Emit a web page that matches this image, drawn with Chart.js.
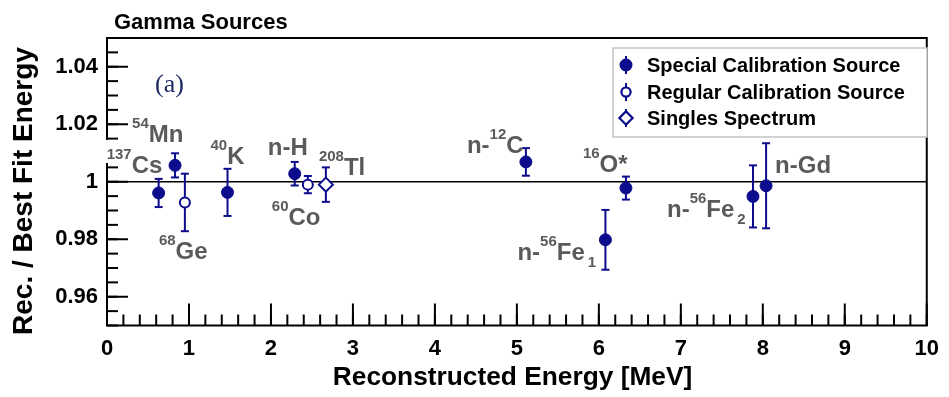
<!DOCTYPE html>
<html><head><meta charset="utf-8">
<script src="https://cdn.jsdelivr.net/npm/chart.js@4.4.1/dist/chart.umd.min.js"></script>
<style>html,body{margin:0;padding:0;background:#fff;overflow:hidden}</style>
</head><body>
<canvas id="c" width="949" height="397"></canvas>
<script>
// ---- data ----
const specialNames  = ['137Cs','54Mn','40K','n-H','n-12C','n-56Fe1','16O*','n-56Fe2','n-Gd'];
const specialEnergy = [0.63, 0.83, 1.47, 2.29, 5.11, 6.08, 6.33, 7.88, 8.04];
const specialRatio  = [0.9961, 1.0057, 0.9963, 1.0028, 1.0069, 0.9798, 0.9978, 0.9949, 0.9986];
const specialError  = [0.0049, 0.0042, 0.0082, 0.0041, 0.0048, 0.0104, 0.0040, 0.0108, 0.0148];

const regularNames  = ['68Ge','60Co'];
const regularEnergy = [0.95, 2.45];
const regularRatio  = [0.9928, 0.9990];
const regularError  = [0.0100, 0.0030];

const singlesNames  = ['208Tl'];
const singlesEnergy = [2.67];
const singlesRatio  = [0.9990];
const singlesError  = [0.0060];

const xTickValues = [0,1,2,3,4,5,6,7,8,9,10];
const xTickLabels = ['0','1','2','3','4','5','6','7','8','9','10'];
const yTickValues = [0.96, 0.98, 1, 1.02, 1.04];
const yTickLabels = ['0.96','0.98','1','1.02','1.04'];

// ---- label text pieces (text only) ----
const labelParts = {
  '137Cs':  [['137','sup'],['Cs','']],
  '54Mn':   [['54','sup'],['Mn','']],
  '68Ge':   [['68','sup'],['Ge','']],
  '40K':    [['40','sup'],['K','']],
  'n-H':    [['n-H','']],
  '60Co':   [['60','sup'],['Co','']],
  '208Tl':  [['208','sup'],['Tl','']],
  'n-12C':  [['n-',''],['12','sup'],['C','']],
  '16O*':   [['16','sup'],['O*','']],
  'n-56Fe1':[['n-',''],['56','sup'],['Fe',''],['1','sub']],
  'n-56Fe2':[['n-',''],['56','sup'],['Fe',''],['2','sub']],
  'n-Gd':   [['n-Gd','']]
};
// ---- label placement (pixel offsets from the marker) ----
const labelOffsets = {
  '137Cs':[-52,-20], '54Mn':[-43,-23], '68Ge':[-26,57], '40K':[-17,-28],
  'n-H':[-27,-19], '60Co':[-36,40], '208Tl':[-7,-10], 'n-12C':[-59,-9],
  '16O*':[-43,-16], 'n-56Fe1':[-88,20], 'n-56Fe2':[-86,21], 'n-Gd':[9,-13]
};

const FAM = '"Liberation Sans", Arial, Helvetica, sans-serif';
const NAVY = '#0c0c8c';
const GRAY = '#5a5a5a';

function pts(xs, ys){ return xs.map((v,i)=>({x:v, y:ys[i]})); }

function line(ctx,x1,y1,x2,y2){ ctx.beginPath(); ctx.moveTo(x1,y1); ctx.lineTo(x2,y2); ctx.stroke(); }

function drawParts(ctx, parts, x, y, knock){
  let cx = x;
  ctx.textBaseline = 'alphabetic';
  ctx.textAlign = 'left';
  parts.forEach(([t,kind])=>{
    if(kind==='sup'){
      ctx.font = 'bold 15px ' + FAM;
      const w = ctx.measureText(t).width;
      if(knock){ ctx.save(); ctx.fillStyle='#fff'; ctx.fillRect(cx-6, y-33, w+6, 23); ctx.restore(); }
      ctx.fillText(t, cx, y-14); cx += w;
    } else if(kind==='sub'){
      cx += 3;
      ctx.font = 'bold 15px ' + FAM;
      ctx.fillText(t, cx, y+7); cx += ctx.measureText(t).width;
    } else {
      ctx.font = 'bold 24px ' + FAM;
      ctx.fillText(t, cx, y); cx += ctx.measureText(t).width;
    }
  });
}

function fitText(ctx, text, weight, target){
  ctx.font = weight + ' 20px ' + FAM;
  const w = ctx.measureText(text).width;
  return 20 * target / w;
}

const deco = {
  id:'deco',
  beforeDatasetsDraw(chart){
    const {ctx, chartArea:a, scales:{x,y}} = chart;
    ctx.save();
    // reference line at 1
    ctx.strokeStyle = '#000'; ctx.lineWidth = 1.6;
    const y1 = y.getPixelForValue(1);
    line(ctx, a.left, y1, a.right, y1);
    // error bars
    ctx.strokeStyle = NAVY; ctx.lineWidth = 2;
    chart.data.datasets.forEach(ds=>{
      ds.data.forEach((p,j)=>{
        const e = ds.errors[j];
        const px = x.getPixelForValue(p.x);
        const t = y.getPixelForValue(p.y+e), b = y.getPixelForValue(p.y-e);
        line(ctx, px, t, px, b);
        line(ctx, px-4, t, px+4, t);
        line(ctx, px-4, b, px+4, b);
      });
    });
    ctx.restore();
  },
  afterDatasetsDraw(chart){
    const {ctx, chartArea:a, scales:{x,y}} = chart;
    ctx.save();
    // frame
    ctx.strokeStyle = '#000'; ctx.lineWidth = 2;
    ctx.strokeRect(a.left, a.top, a.right-a.left, a.bottom-a.top);
    // y ticks (inward)
    ctx.lineWidth = 2;
    for(let k=0;k<=20;k++){
      const v = y.min + k*(y.max-y.min)/20;
      const py = y.getPixelForValue(v);
      line(ctx, a.left, py, a.left+11, py);
    }
    y.ticks.forEach(t=>{ const py=y.getPixelForValue(t.value); line(ctx, a.left, py, a.left+21, py); });
    // x ticks (inward)
    for(let k=0;k<=50;k++){
      const v = x.min + k*(x.max-x.min)/50;
      const px = x.getPixelForValue(v);
      line(ctx, px, a.bottom, px, a.bottom-11);
    }
    x.ticks.forEach(t=>{ const px=x.getPixelForValue(t.value); line(ctx, px, a.bottom, px, a.bottom-22); });

    // source labels
    ctx.fillStyle = GRAY;
    chart.data.datasets.forEach(ds=>{
      ds.data.forEach((p,j)=>{
        const name = ds.names[j];
        const off = labelOffsets[name];
        const px = x.getPixelForValue(p.x) + off[0];
        const py = y.getPixelForValue(p.y) + off[1];
        ctx.fillStyle = GRAY;
        drawParts(ctx, labelParts[name], px, py, name==='137Cs');
      });
    });

    // (a)
    ctx.fillStyle = '#1e2a66';
    ctx.font = '26px "Liberation Serif", "Times New Roman", serif';
    ctx.textAlign = 'left'; ctx.textBaseline = 'alphabetic';
    ctx.fillText('(a)', 155, 92);

    // legend
    const L = {l:613, t:48, r:927, b:137};
    ctx.fillStyle = '#fff';
    ctx.fillRect(L.l, L.t, L.r-L.l, L.b-L.t);
    ctx.strokeStyle = '#c4c4c4'; ctx.lineWidth = 1.5;
    ctx.strokeRect(L.l, L.t, L.r-L.l, L.b-L.t);
    const rows = [65, 92, 118];
    chart.data.datasets.forEach((ds,i)=>{
      const cy = rows[i], cx = 626;
      ctx.strokeStyle = NAVY; ctx.lineWidth = 2;
      line(ctx, cx, cy-9, cx, cy+9);
      Chart.helpers.drawPoint(ctx, {pointStyle: ds.pointStyle, radius: ds.pointRadius - (i===0?0.5:0.5), borderWidth: ds.borderWidth}, cx, cy);
      ctx.fillStyle = ds.backgroundColor; ctx.fill();
      ctx.strokeStyle = ds.borderColor; ctx.lineWidth = ds.borderWidth; ctx.stroke();
      ctx.fillStyle = '#000';
      ctx.font = 'bold 20px ' + FAM;
      ctx.textAlign = 'left'; ctx.textBaseline = 'middle';
      ctx.fillText(ds.label, 647, cy+1);
    });

    // titles
    ctx.fillStyle = '#000';
    ctx.textBaseline = 'alphabetic';
    ctx.textAlign = 'left';
    ctx.font = 'bold 22px ' + FAM;
    ctx.fillText('Gamma Sources', 114, 29);

    const xt = 'Reconstructed Energy [MeV]';
    const xs = fitText(ctx, xt, 'bold', 360);
    ctx.font = 'bold ' + xs.toFixed(1) + 'px ' + FAM;
    ctx.textAlign = 'center';
    ctx.fillText(xt, 512.5, 385);

    const yt = 'Rec. / Best Fit Energy';
    const ys = fitText(ctx, yt, 'bold', 288);
    ctx.save();
    ctx.translate(32, 191);
    ctx.rotate(-Math.PI/2);
    ctx.font = 'bold ' + ys.toFixed(1) + 'px ' + FAM;
    ctx.textAlign = 'center';
    ctx.fillText(yt, 0, 0);
    ctx.restore();

    ctx.restore();
  }
};

new Chart(document.getElementById('c'), {
  type: 'scatter',
  data: {
    datasets: [
      { label:'Special Calibration Source', data: pts(specialEnergy, specialRatio), errors: specialError, names: specialNames,
        pointStyle:'circle', pointRadius:6, backgroundColor:NAVY, borderColor:NAVY, borderWidth:1 },
      { label:'Regular Calibration Source', data: pts(regularEnergy, regularRatio), errors: regularError, names: regularNames,
        pointStyle:'circle', pointRadius:5, backgroundColor:'#fff', borderColor:NAVY, borderWidth:2 },
      { label:'Singles Spectrum', data: pts(singlesEnergy, singlesRatio), errors: singlesError, names: singlesNames,
        pointStyle:'rectRot', pointRadius:7, backgroundColor:'#fff', borderColor:NAVY, borderWidth:2 }
    ]
  },
  options: {
    responsive:false, animation:false, devicePixelRatio:1,
    layout:{ padding:{ left:0, right:12.5, top:38, bottom:0 } },
    plugins:{ legend:{display:false}, tooltip:{enabled:false}, title:{display:false} },
    scales:{
      x:{ type:'linear', min:0, max:10,
        afterBuildTicks(s){ s.ticks = xTickValues.map(v=>({value:v})); },
        afterFit(s){ s.height = 71.5; },
        ticks:{ callback:(v,i)=>xTickLabels[i], font:{family:FAM, size:22, weight:'bold'}, color:'#000', padding:10, maxRotation:0, autoSkip:false },
        grid:{ display:false, drawTicks:false }, border:{ display:false } },
      y:{ type:'linear', min:0.95, max:1.05,
        afterBuildTicks(s){ s.ticks = yTickValues.map(v=>({value:v})); },
        afterFit(s){ s.width = 107; },
        ticks:{ callback:(v,i)=>yTickLabels[i], font:{family:FAM, size:22, weight:'bold'}, color:'#000', padding:9, autoSkip:false },
        grid:{ display:false, drawTicks:false }, border:{ display:false } }
    }
  },
  plugins:[deco]
});
</script>
</body></html>
